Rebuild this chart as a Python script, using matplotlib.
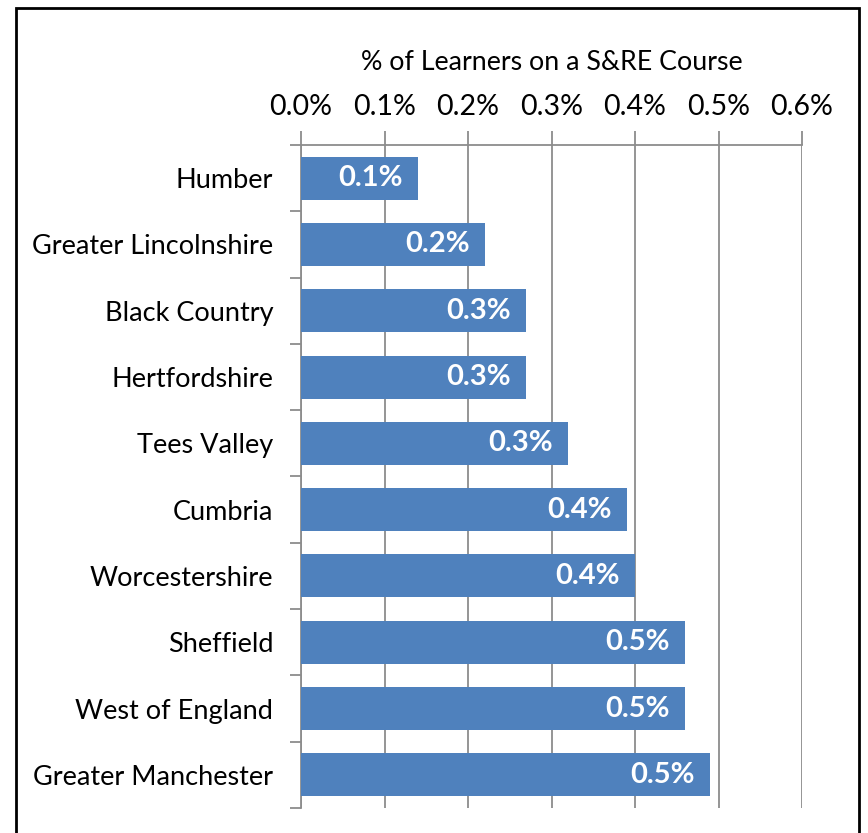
import matplotlib.pyplot as plt
from matplotlib.patches import Rectangle
from matplotlib.ticker import FuncFormatter

plt.rcParams['font.family'] = ['Lato', 'DejaVu Sans']

regions = ['Humber', 'Greater Lincolnshire', 'Black Country', 'Hertfordshire',
           'Tees Valley', 'Cumbria', 'Worcestershire', 'Sheffield',
           'West of England', 'Greater Manchester']
share = [0.14, 0.22, 0.27, 0.27, 0.32, 0.39, 0.40, 0.46, 0.46, 0.49]
xticks = [0.0, 0.1, 0.2, 0.3, 0.4, 0.5, 0.6]

fig = plt.figure(figsize=(8.68, 8.33), dpi=100)
ax = fig.add_axes([301 / 868, 1 - 808 / 833, (802 - 301) / 868, (808 - 145) / 833])

# outer chart border (bottom edge falls off the image)
fig.patches.append(Rectangle((16 / 868, -0.1), (859 - 16) / 868, 1.1 - 8 / 833,
                             transform=fig.transFigure, fill=False,
                             edgecolor='black', linewidth=2))

grid_c = '#8c8c8c'
y = list(range(len(regions)))
bars = ax.barh(y, share, height=0.65, color='#4f81bd', zorder=3)

for b, v in zip(bars, share):
    ax.annotate('{:.1f}%'.format(v), (b.get_width(), b.get_y() + b.get_height() / 2),
                xytext=(-11, 0), textcoords='offset points',
                ha='right', va='center', color='white',
                fontsize=21, fontweight='bold', zorder=4)

ax.set_xlim(0, 0.6)
ax.set_ylim(len(regions) - 0.5, -0.5)
ax.set_xticks(xticks)
ax.xaxis.set_major_formatter(FuncFormatter(lambda v, p: '{:.1f}%'.format(v)))
ax.xaxis.tick_top()
ax.xaxis.set_label_position('top')
ax.set_xlabel('% of Learners on a S&RE Course', fontsize=19.3, labelpad=17)

ax.set_yticks(y)
ax.set_yticklabels(regions)
ax.set_yticks([i - 0.5 for i in range(len(regions) + 1)], minor=True)
ax.tick_params(axis='y', which='major', length=0, pad=20, labelsize=19.5)
ax.tick_params(axis='y', which='minor', length=8, color=grid_c, width=1.3)
ax.tick_params(axis='x', length=10, color=grid_c, width=1.3, labelsize=20.5, pad=8)

ax.grid(axis='x', color=grid_c, linewidth=1.3, zorder=0)
for s in ['right', 'bottom']:
    ax.spines[s].set_visible(False)
for s in ['top', 'left']:
    ax.spines[s].set_color(grid_c)
    ax.spines[s].set_linewidth(1.3)

fig.savefig('out.png', dpi=100)
